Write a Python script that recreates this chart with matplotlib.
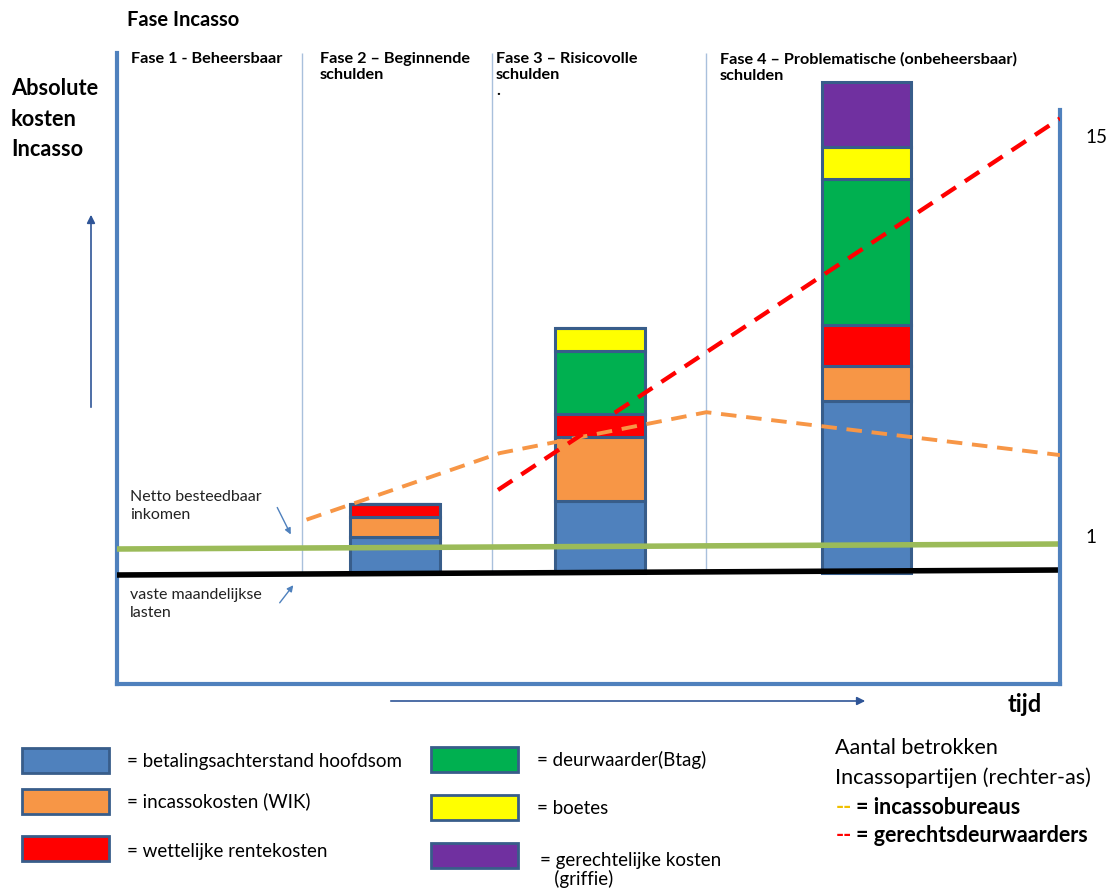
import matplotlib.pyplot as plt
from matplotlib.patches import Rectangle

W, H = 1113, 892

# phases on the time axis (0..10) and the three stacked bars
phase_labels = ["Fase 1 - Beheersbaar",
                "Fase 2 \u2013 Beginnende\nschulden",
                "Fase 3 \u2013 Risicovolle\nschulden\n.",
                "Fase 4 \u2013 Problematische (onbeheersbaar)\nschulden"]
phase_dividers = [1.96, 3.98, 6.25]
bar_x = [2.95, 5.12, 7.95]

# cost components per bar (absolute cost, arbitrary units)
hoofdsom = [3.6, 7.2, 17.2]
incassokosten = [2.0, 6.4, 3.5]
rentekosten = [1.3, 2.3, 4.1]
deurwaarder = [0.0, 6.3, 14.6]
boetes = [0.0, 2.3, 3.2]
griffie = [0.0, 0.0, 6.5]

component_labels = ["= betalingsachterstand hoofdsom", "= incassokosten (WIK)",
                    "= wettelijke rentekosten", "= deurwaarder(Btag)", "= boetes",
                    "= gerechtelijke kosten\n   (griffie)"]
component_colors = ["#4f81bd", "#f79646", "#ff0000", "#00b050", "#ffff00", "#7030a0"]

# income / fixed monthly costs (left scale), start and end of the time axis
line_x = [0, 10]
netto_inkomen = [2.4, 2.9]
vaste_lasten = [-0.2, 0.3]

# number of collection parties (right scale)
incasso_x = [2.01, 4.06, 6.25, 10.0]
incassobureaus = [1.56, 3.89, 5.32, 3.82]
deurwaarder_x = [4.04, 10.0]
gerechtsdeurwaarders = [2.6, 15.6]

FONT = "Lato"
EDGE = "#385d8a"
SPINE = "#4f81bd"


def draw_main(fig):
    ax = fig.add_axes([117 / W, (H - 684) / H, (1060 - 117) / W, (684 - 53) / H])
    ax.set_xlim(0, 10)
    ax.set_ylim(-11.1, 52)
    ax.set_xticks([])
    ax.set_yticks([])
    for s in ["top", "right"]:
        ax.spines[s].set_visible(False)
    for s in ["left", "bottom"]:
        ax.spines[s].set_color(SPINE)
        ax.spines[s].set_linewidth(3)

    ax.vlines(phase_dividers, 0, 52, color="#a9c0dc", lw=1)

    bottom = [0.0, 0.0, 0.0]
    series = [hoofdsom, incassokosten, rentekosten, deurwaarder, boetes, griffie]
    for vals, col in zip(series, component_colors):
        ax.bar(bar_x, vals, width=0.95, bottom=bottom, color=col,
               edgecolor=EDGE, linewidth=2.2, zorder=2)
        bottom = [b + v for b, v in zip(bottom, vals)]

    ax.plot(line_x, netto_inkomen, color="#9bbb59", lw=4, zorder=3,
            solid_capstyle="butt")
    ax.plot(line_x, vaste_lasten, color="black", lw=4, zorder=3,
            solid_capstyle="butt")

    ax2 = ax.twinx()
    ax2.set_ylim(-4.19, 17.89)
    for s in ["top", "left", "bottom"]:
        ax2.spines[s].set_visible(False)
    ax2.spines["right"].set_color(SPINE)
    ax2.spines["right"].set_linewidth(3)
    ax2.spines["right"].set_bounds(-4.19, 15.91)
    ax2.set_yticks([1, 15])
    ax2.tick_params(axis="y", length=0, pad=18, labelsize=13.5)
    for lab in ax2.get_yticklabels():
        lab.set_fontfamily(FONT)
    ax2.plot(incasso_x, incassobureaus, color="#f79646", lw=2.8,
             dashes=(4, 2.5), zorder=4)
    ax2.plot(deurwaarder_x, gerechtsdeurwaarders, color="#ff0000", lw=3.1,
             dashes=(4, 2.5), zorder=4)
    return ax


def draw_layout(fig):
    lay = fig.add_axes([0, 0, 1, 1], zorder=5)
    lay.set_xlim(0, W)
    lay.set_ylim(H, 0)
    lay.axis("off")

    lay.text(127, 20, "Fase Incasso", fontsize=14.5, fontweight="bold",
             family=FONT, va="center")
    lay.text(11, 119, "Absolute\nkosten\nIncasso", fontsize=15.7, fontweight="bold",
             family=FONT, va="center", linespacing=1.55)
    for x, lab in zip([131, 320, 496, 720], phase_labels):
        lay.text(x, 52, lab, fontsize=11.7, fontweight="bold", family=FONT,
                 va="top", linespacing=1.2)

    lay.annotate("", xy=(91, 212), xytext=(91, 410),
                 arrowprops=dict(arrowstyle="-|>", color="#2f5597", lw=1.2,
                                 mutation_scale=12))
    lay.annotate("", xy=(868, 701), xytext=(388, 701),
                 arrowprops=dict(arrowstyle="-|>", color="#2f5597", lw=1.2,
                                 mutation_scale=12))
    lay.text(1008, 705, "tijd", fontsize=17, fontweight="bold", family=FONT,
             va="center")

    lay.text(130, 506, "Netto besteedbaar\ninkomen", fontsize=11.5, family=FONT,
             va="center", linespacing=1.3, color="#222222")
    lay.annotate("", xy=(292, 537), xytext=(276, 505),
                 arrowprops=dict(arrowstyle="-|>", color=SPINE, lw=1,
                                 mutation_scale=9))
    lay.text(130, 604, "vaste maandelijkse\nlasten", fontsize=11.5, family=FONT,
             va="center", linespacing=1.3, color="#222222")
    lay.annotate("", xy=(295, 583), xytext=(278, 605),
                 arrowprops=dict(arrowstyle="-|>", color=SPINE, lw=1,
                                 mutation_scale=9))

    # legend boxes
    box_pos = [(22, 748), (22, 789), (22, 836), (431, 747), (431, 795), (431, 843)]
    text_pos = [(127, 761), (127, 801), (127, 852), (537, 760), (537, 808), (540, 870)]
    for (bx, by), (tx, ty), lab, col in zip(box_pos, text_pos,
                                            component_labels, component_colors):
        lay.add_patch(Rectangle((bx, by), 87, 25, facecolor=col, edgecolor=EDGE,
                                lw=2))
        lay.text(tx, ty, lab, fontsize=13.5, family=FONT, va="center",
                 linespacing=1.1)

    lay.text(835, 748, "Aantal betrokken", fontsize=15.5, family=FONT, va="center")
    lay.text(835, 778, "Incassopartijen (rechter-as)", fontsize=15.5, family=FONT,
             va="center")
    lay.text(836, 807, "--", fontsize=15.5, fontweight="bold", family=FONT,
             va="center", color="#f0c000")
    lay.text(856, 807, "= incassobureaus", fontsize=15.5, fontweight="bold",
             family=FONT, va="center")
    lay.text(836, 836, "--", fontsize=15.5, fontweight="bold", family=FONT,
             va="center", color="#ff0000")
    lay.text(856, 836, "= gerechtsdeurwaarders", fontsize=15.5, fontweight="bold",
             family=FONT, va="center")


def main():
    fig = plt.figure(figsize=(W / 100, H / 100), dpi=100)
    draw_main(fig)
    draw_layout(fig)
    fig.savefig("out.png", dpi=100)


if __name__ == "__main__":
    main()
